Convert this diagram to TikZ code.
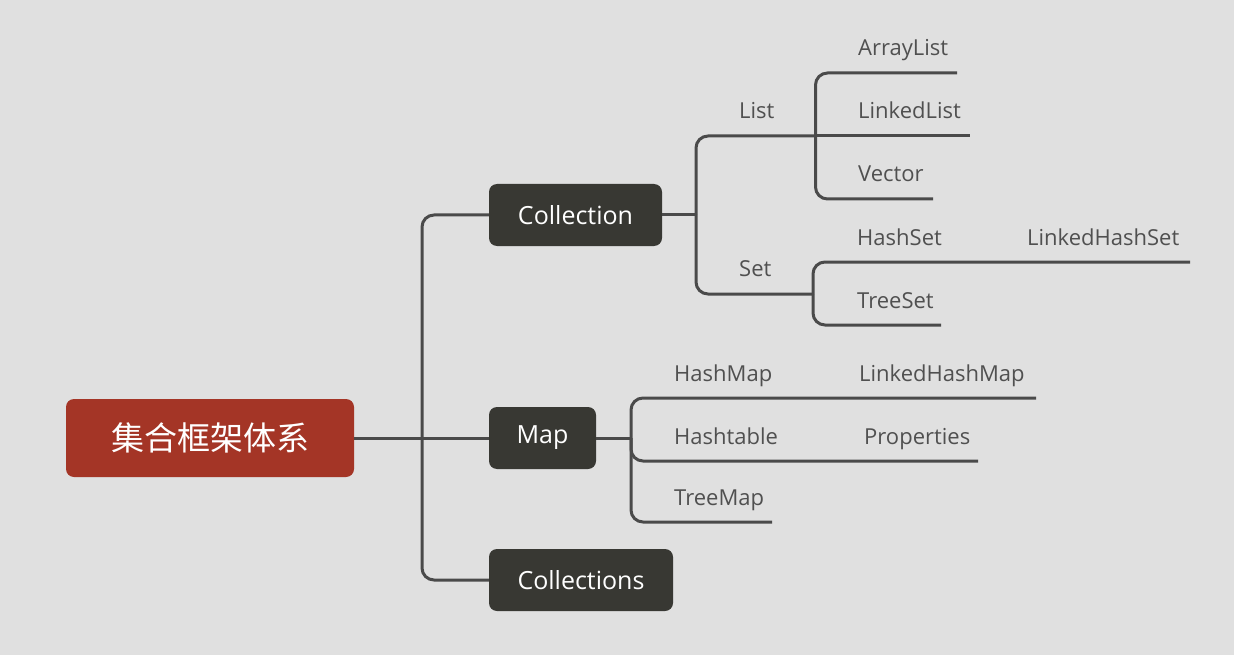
\documentclass[tikz,border=0pt]{standalone}
\usepackage{fontspec}
\setmainfont{Open Sans}
\newfontfamily\cjk{Noto Sans CJK SC}
\definecolor{bgc}{HTML}{E0E0E0}
\definecolor{rootc}{HTML}{A43526}
\definecolor{boxc}{HTML}{383833}
\definecolor{linec}{HTML}{4A4A4A}
\definecolor{textc}{HTML}{505050}
\tikzset{
  rootbox/.style={fill=rootc, rounded corners=8pt, minimum width=288pt, minimum height=78pt, inner sep=0pt, text=white, font=\cjk\fontsize{33}{33}\selectfont},
  topicbox/.style={fill=boxc, rounded corners=8pt, minimum height=62pt, inner sep=0pt, text=white, font=\fontsize{25}{25}\selectfont},
  lbl/.style={anchor=base west, inner sep=0pt, text=textc, font=\fontsize{22}{22}\selectfont},
  conn/.style={draw=linec, line width=3pt, rounded corners=12pt},
  stub/.style={draw=linec, line width=3pt},
}
\begin{document}
\begin{tikzpicture}[x=1pt,y=-1pt]
\fill[bgc] (0,0) rectangle (1234,655);
\useasboundingbox (0,0) rectangle (1234,655);

% main nodes
\node[rootbox] (root) at (210,438) {集合框架体系};
\node[topicbox, minimum width=173pt] (coll) at (575.5,215) {Collection};
\node[topicbox, minimum width=107pt] (map) at (542.5,438) {Map};
\node[topicbox, minimum width=184pt] (colls) at (581,580) {Collections};

% labels
\node[lbl] (list) at (739,119) {List};
\node[lbl] (set) at (739,276) {Set};
\node[lbl] (al) at (858,56) {ArrayList};
\node[lbl] (ll) at (858,119) {LinkedList};
\node[lbl] (vec) at (858,182) {Vector};
\node[lbl] (hs) at (857,245) {HashSet};
\node[lbl] (lhs) at (1027,245) {LinkedHashSet};
\node[lbl] (ts) at (857,308) {TreeSet};
\node[lbl] (hm) at (674,381) {HashMap};
\node[lbl] (lhm) at (859,381) {LinkedHashMap};
\node[lbl] (ht) at (674,444) {Hashtable};
\node[lbl] (prop) at (864,444) {Properties};
\node[lbl] (tm) at (674,505) {TreeMap};

% junction coordinates
\coordinate (j0) at (422,438);
\coordinate (j1) at (696,215);
\coordinate (jl) at (815.5,136);
\coordinate (js) at (813,294);
\coordinate (jm) at (631,438);

% line end coordinates
\coordinate (listend) at (815.5,136);
\coordinate (setend) at (813,294);
\coordinate (alend) at (957,73);
\coordinate (llend) at (970,136);
\coordinate (vecend) at (933,199);
\coordinate (hsend) at (1190,262);
\coordinate (tsend) at (941,325);
\coordinate (hmend) at (1036,398);
\coordinate (htend) at (978,461);
\coordinate (tmend) at (772,522);

% root connectors
\draw[stub] (root.east) -- (map.west);
\draw[conn] (j0) |- (coll.west);
\draw[conn] (j0) |- (colls.west);

% Collection
\draw[stub] (coll.east) -- (j1);
\draw[conn] (j1) |- (listend);
\draw[conn] (j1) |- (setend);

% List
\draw[conn] (jl) |- (alend);
\draw[stub] (jl) -- (llend);
\draw[conn] (jl) |- (vecend);

% Set
\draw[conn] (js) |- (hsend);
\draw[conn] (js) |- (tsend);

% Map
\draw[stub] (map.east) -- (jm);
\draw[conn] (jm) |- (hmend);
\draw[conn] (jm) |- (htend);
\draw[conn] (jm) |- (tmend);
\end{tikzpicture}
\end{document}
